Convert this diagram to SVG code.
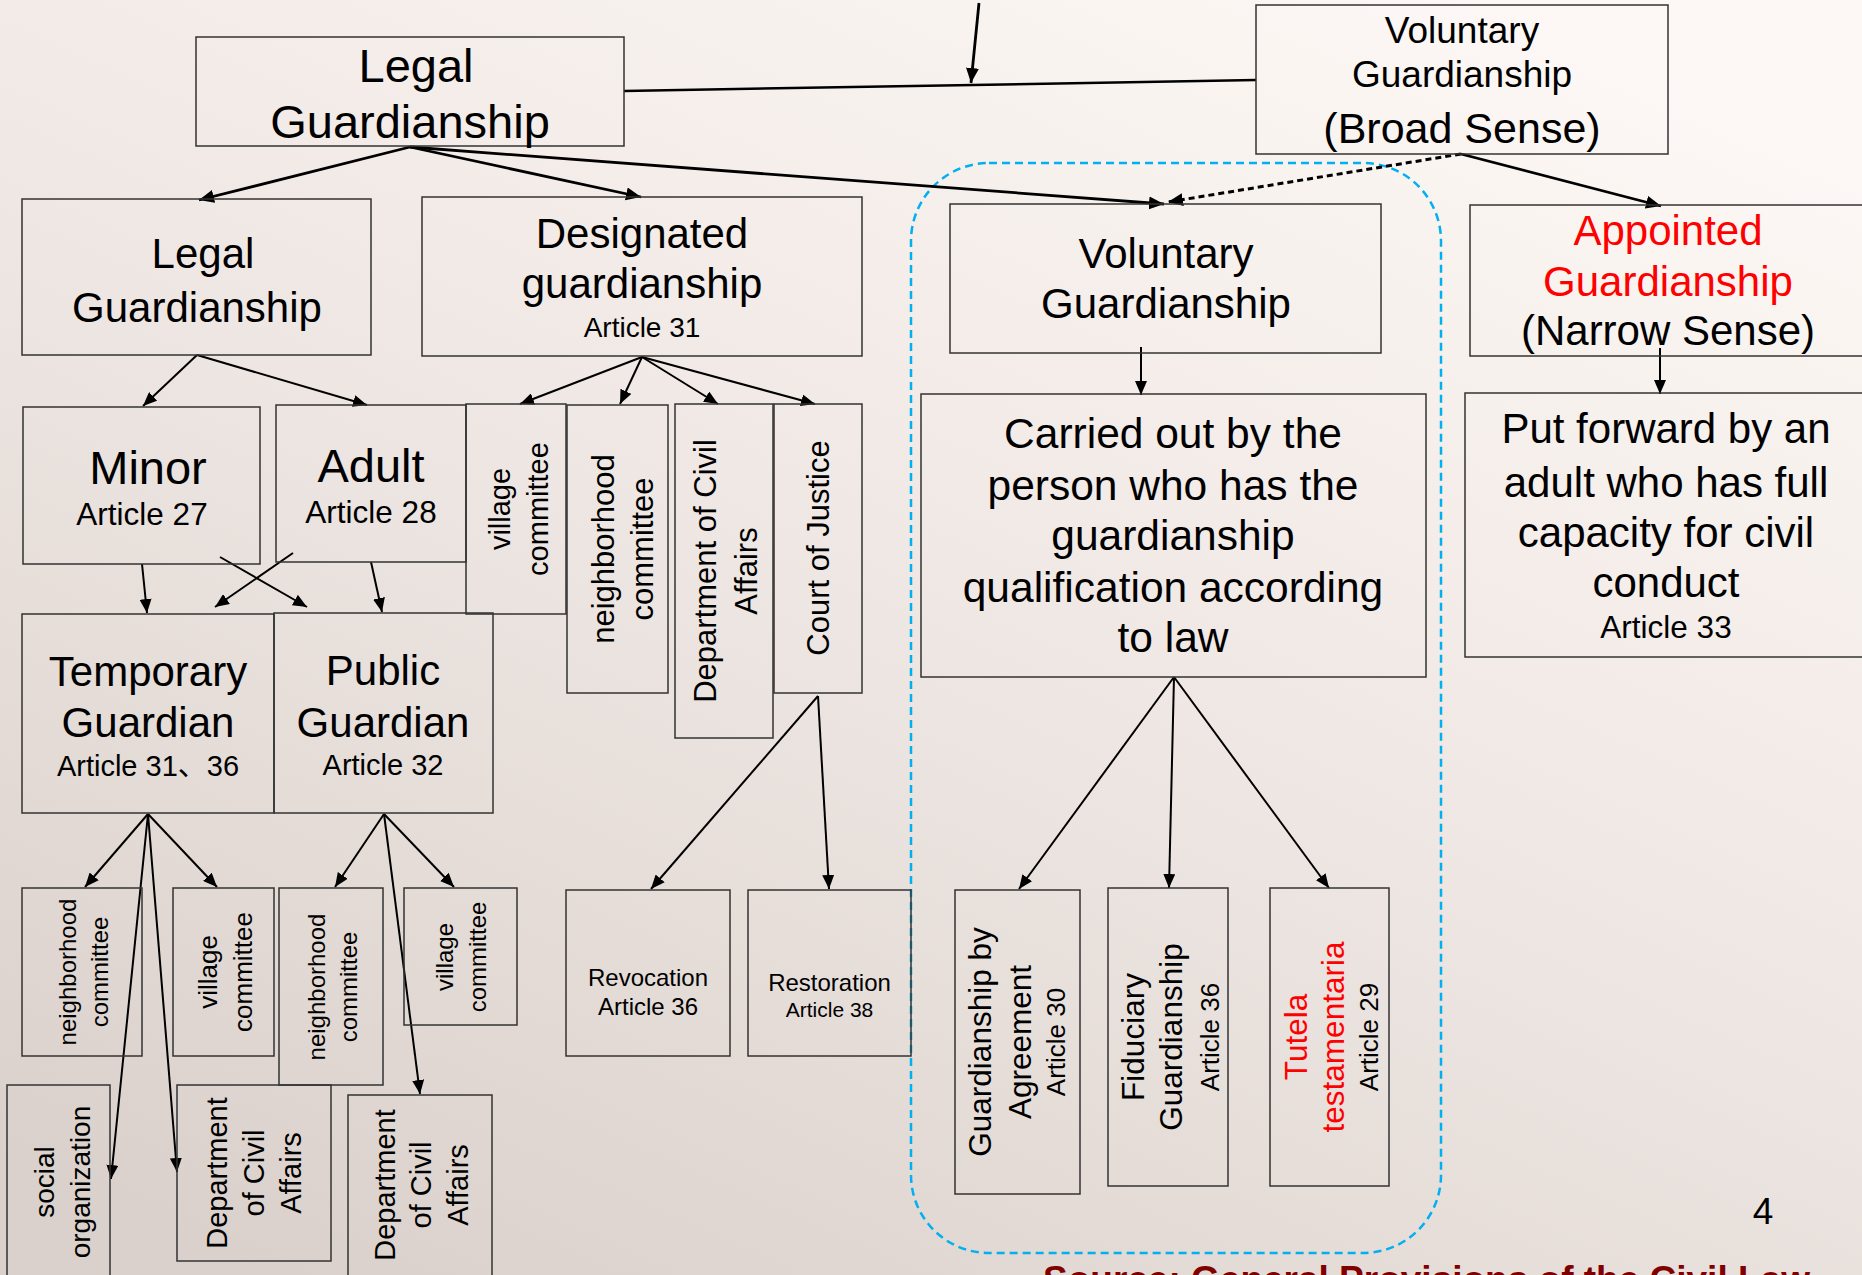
<svg xmlns="http://www.w3.org/2000/svg" width="1862" height="1275" viewBox="0 0 1862 1275">
<defs>
<linearGradient id="bg" x1="0.8" y1="0" x2="0.15" y2="1">
<stop offset="0" stop-color="#fdf8f5"/>
<stop offset="0.5" stop-color="#eee6e2"/>
<stop offset="1" stop-color="#dad1cc"/>
</linearGradient>
<marker id="ah" markerUnits="userSpaceOnUse" markerWidth="16" markerHeight="14" refX="15" refY="6.5" orient="auto" viewBox="0 0 16 14">
<path d="M0,0 L15,6.5 L0,13 z" fill="#000"/>
</marker>
<marker id="ahs" markerUnits="userSpaceOnUse" markerWidth="15" markerHeight="12" refX="14" refY="6" orient="auto" viewBox="0 0 15 12">
<path d="M0,0 L14,6 L0,12 z" fill="#000"/>
</marker>
</defs>
<style>
.box{fill:none;stroke:#333;stroke-width:1.5}
.t{font-family:"Liberation Sans",Arial,"Noto Sans CJK SC",sans-serif;fill:#000;text-anchor:middle}
.red{fill:#ff0000}
.c1{stroke:#000;stroke-width:2.8;fill:none;marker-end:url(#ah)}
.c2{stroke:#000;stroke-width:2;fill:none;marker-end:url(#ahs)}
.dash{stroke:#000;stroke-width:3;fill:none;stroke-dasharray:6 4;marker-end:url(#ah)}
</style>
<rect x="0" y="0" width="1862" height="1275" fill="url(#bg)"/>

<g id="frame">
<rect x="911" y="163" width="530" height="1090" rx="78" ry="78" fill="none" stroke="#00b0f0" stroke-width="2.5" stroke-dasharray="8 5"/>
</g>

<g id="connectors">
<line class="c1" x1="979" y1="3" x2="971" y2="83"/>
<line x1="624" y1="91" x2="1256" y2="80" stroke="#000" stroke-width="2.5"/>
<line class="c1" x1="410" y1="147" x2="199" y2="200"/>
<line class="c1" x1="410" y1="147" x2="641" y2="197"/>
<line class="c1" x1="410" y1="147" x2="1164" y2="204"/>
<line class="dash" x1="1461" y1="154" x2="1168" y2="202"/>
<line class="c1" x1="1461" y1="154" x2="1661" y2="206"/>
<line class="c2" x1="197" y1="355" x2="143" y2="406"/>
<line class="c2" x1="197" y1="355" x2="367" y2="405"/>
<line class="c2" x1="642" y1="357" x2="520" y2="404"/>
<line class="c2" x1="642" y1="357" x2="620" y2="404"/>
<line class="c2" x1="642" y1="357" x2="718" y2="404"/>
<line class="c2" x1="642" y1="357" x2="815" y2="404"/>
<line class="c2" x1="1141" y1="347" x2="1141" y2="395"/>
<line class="c2" x1="1660" y1="348" x2="1660" y2="394"/>
<line class="c2" x1="142" y1="564" x2="147" y2="613"/>
<line class="c2" x1="220" y1="557" x2="307" y2="607"/>
<line class="c2" x1="293" y1="553" x2="215" y2="607"/>
<line class="c2" x1="371" y1="562" x2="382" y2="612"/>
<line class="c2" x1="818" y1="696" x2="651" y2="889"/>
<line class="c2" x1="818" y1="696" x2="829" y2="889"/>
<line class="c2" x1="1174" y1="677" x2="1019" y2="889"/>
<line class="c2" x1="1174" y1="677" x2="1169" y2="888"/>
<line class="c2" x1="1174" y1="677" x2="1329" y2="888"/>
<line class="c2" x1="148" y1="814" x2="85" y2="887"/>
<line class="c2" x1="148" y1="814" x2="217" y2="887"/>
<line class="c2" x1="148" y1="814" x2="111" y2="1179"/>
<line class="c2" x1="148" y1="814" x2="177" y2="1172"/>
<line class="c2" x1="384" y1="814" x2="335" y2="887"/>
<line class="c2" x1="384" y1="814" x2="454" y2="887"/>
<line class="c2" x1="384" y1="814" x2="420" y2="1094"/>
</g>

<g id="legal-guardianship-top">
<rect class="box" x="196" y="37" width="428" height="109"/>
<text class="t" font-size="47" x="416" y="82">Legal</text>
<text class="t" font-size="47" x="410" y="138">Guardianship</text>
</g>

<g id="voluntary-broad">
<rect class="box" x="1256" y="5" width="412" height="149"/>
<text class="t" font-size="37" x="1462" y="43">Voluntary</text>
<text class="t" font-size="37" x="1462" y="87">Guardianship</text>
<text class="t" font-size="43" x="1462" y="143">(Broad Sense)</text>
</g>

<g id="legal-guardianship">
<rect class="box" x="22" y="199" width="349" height="156"/>
<text class="t" font-size="42" x="203" y="268">Legal</text>
<text class="t" font-size="42" x="197" y="322">Guardianship</text>
</g>

<g id="designated">
<rect class="box" x="422" y="197" width="440" height="159"/>
<text class="t" font-size="42" x="642" y="248">Designated</text>
<text class="t" font-size="42" x="642" y="298">guardianship</text>
<text class="t" font-size="28" x="642" y="337">Article 31</text>
</g>

<g id="voluntary">
<rect class="box" x="950" y="204" width="431" height="149"/>
<text class="t" font-size="42" x="1166" y="268">Voluntary</text>
<text class="t" font-size="42" x="1166" y="318">Guardianship</text>
</g>

<g id="appointed">
<rect class="box" x="1470" y="205" width="400" height="151"/>
<text class="t red" font-size="42" x="1668" y="245">Appointed</text>
<text class="t red" font-size="42" x="1668" y="296">Guardianship</text>
<text class="t" font-size="42" x="1668" y="345">(Narrow Sense)</text>
</g>

<g id="minor">
<rect class="box" x="23" y="407" width="237" height="157"/>
<text class="t" font-size="47" x="148" y="484">Minor</text>
<text class="t" font-size="31.5" x="142" y="525">Article 27</text>
</g>

<g id="adult">
<rect class="box" x="276" y="405" width="190" height="157"/>
<text class="t" font-size="47" x="371" y="482">Adult</text>
<text class="t" font-size="31.5" x="371" y="523">Article 28</text>
</g>

<g id="village-committee-1">
<rect class="box" x="466" y="404" width="100" height="210"/>
<text class="t" font-size="29" transform="translate(510,509) rotate(-90)">village</text>
<text class="t" font-size="29" transform="translate(548,509) rotate(-90)">committee</text>
</g>

<g id="neighborhood-committee-1">
<rect class="box" x="567" y="405" width="101" height="288"/>
<text class="t" font-size="31" transform="translate(614,549) rotate(-90)">neighborhood</text>
<text class="t" font-size="31" transform="translate(653,549) rotate(-90)">committee</text>
</g>

<g id="civil-affairs-1">
<rect class="box" x="675" y="404" width="98" height="334"/>
<text class="t" font-size="31" transform="translate(716,571) rotate(-90)">Department of Civil</text>
<text class="t" font-size="31" transform="translate(757,571) rotate(-90)">Affairs</text>
</g>

<g id="court-of-justice">
<rect class="box" x="774" y="404" width="88" height="289"/>
<text class="t" font-size="31" transform="translate(829,548) rotate(-90)">Court of Justice</text>
</g>

<g id="temporary-guardian">
<rect class="box" x="22" y="614" width="252" height="199"/>
<text class="t" font-size="42" x="148" y="686">Temporary</text>
<text class="t" font-size="42" x="148" y="737">Guardian</text>
<text class="t" font-size="29" x="148" y="776">Article 31、36</text>
</g>

<g id="public-guardian">
<rect class="box" x="274" y="613" width="219" height="200"/>
<text class="t" font-size="42" x="383" y="685">Public</text>
<text class="t" font-size="42" x="383" y="737">Guardian</text>
<text class="t" font-size="29" x="383" y="775">Article 32</text>
</g>

<g id="carried-out">
<rect class="box" x="921" y="394" width="505" height="283"/>
<text class="t" font-size="42.5" x="1173" y="448">Carried out by the</text>
<text class="t" font-size="42.5" x="1173" y="500">person who has the</text>
<text class="t" font-size="42.5" x="1173" y="550">guardianship</text>
<text class="t" font-size="42.5" x="1173" y="602">qualification according</text>
<text class="t" font-size="42.5" x="1173" y="652">to law</text>
</g>

<g id="put-forward">
<rect class="box" x="1465" y="393" width="405" height="264"/>
<text class="t" font-size="42" x="1666" y="443">Put forward by an</text>
<text class="t" font-size="42" x="1666" y="497">adult who has full</text>
<text class="t" font-size="42" x="1666" y="547">capacity for civil</text>
<text class="t" font-size="42" x="1666" y="597">conduct</text>
<text class="t" font-size="31.5" x="1666" y="638">Article 33</text>
</g>

<g id="neighborhood-committee-2">
<rect class="box" x="22" y="888" width="120" height="168"/>
<text class="t" font-size="24" transform="translate(76,972) rotate(-90)">neighborhood</text>
<text class="t" font-size="24" transform="translate(108,972) rotate(-90)">committee</text>
</g>

<g id="village-committee-2">
<rect class="box" x="173" y="888" width="101" height="168"/>
<text class="t" font-size="26" transform="translate(217,972) rotate(-90)">village</text>
<text class="t" font-size="26" transform="translate(252,972) rotate(-90)">committee</text>
</g>

<g id="neighborhood-committee-3">
<rect class="box" x="279" y="888" width="104" height="197"/>
<text class="t" font-size="24" transform="translate(325,987) rotate(-90)">neighborhood</text>
<text class="t" font-size="24" transform="translate(357,987) rotate(-90)">committee</text>
</g>

<g id="village-committee-3">
<rect class="box" x="404" y="888" width="113" height="137"/>
<text class="t" font-size="24" transform="translate(453,957) rotate(-90)">village</text>
<text class="t" font-size="24" transform="translate(486,957) rotate(-90)">committee</text>
</g>

<g id="social-organization">
<rect class="box" x="7" y="1085" width="103" height="200"/>
<text class="t" font-size="28" transform="translate(54,1182) rotate(-90)">social</text>
<text class="t" font-size="28" transform="translate(90,1182) rotate(-90)">organization</text>
</g>

<g id="civil-affairs-2">
<rect class="box" x="177" y="1085" width="154" height="176"/>
<text class="t" font-size="29" transform="translate(227,1173) rotate(-90)">Department</text>
<text class="t" font-size="29" transform="translate(264,1173) rotate(-90)">of Civil</text>
<text class="t" font-size="29" transform="translate(301,1173) rotate(-90)">Affairs</text>
</g>

<g id="civil-affairs-3">
<rect class="box" x="348" y="1095" width="144" height="190"/>
<text class="t" font-size="29" transform="translate(395,1185) rotate(-90)">Department</text>
<text class="t" font-size="29" transform="translate(431,1185) rotate(-90)">of Civil</text>
<text class="t" font-size="29" transform="translate(468,1185) rotate(-90)">Affairs</text>
</g>

<g id="revocation">
<rect class="box" x="566" y="890" width="164" height="166"/>
<text class="t" font-size="24" x="648" y="986">Revocation</text>
<text class="t" font-size="24" x="648" y="1015">Article 36</text>
</g>

<g id="restoration">
<rect class="box" x="748" y="890" width="163" height="166"/>
<text class="t" font-size="24" x="829.5" y="991">Restoration</text>
<text class="t" font-size="21" x="829.5" y="1017">Article 38</text>
</g>

<g id="agreement">
<rect class="box" x="955" y="890" width="125" height="304"/>
<text class="t" font-size="31.5" transform="translate(991,1042) rotate(-90)">Guardianship by</text>
<text class="t" font-size="31.5" transform="translate(1031,1042) rotate(-90)">Agreement</text>
<text class="t" font-size="26" transform="translate(1065,1042) rotate(-90)">Article 30</text>
</g>

<g id="fiduciary">
<rect class="box" x="1108" y="888" width="120" height="298"/>
<text class="t" font-size="31.5" transform="translate(1144,1037) rotate(-90)">Fiduciary</text>
<text class="t" font-size="31.5" transform="translate(1182,1037) rotate(-90)">Guardianship</text>
<text class="t" font-size="26" transform="translate(1219,1037) rotate(-90)">Article 36</text>
</g>

<g id="tutela">
<rect class="box" x="1270" y="888" width="119" height="298"/>
<text class="t red" font-size="31.5" transform="translate(1307,1037) rotate(-90)">Tutela</text>
<text class="t red" font-size="31.5" transform="translate(1344,1037) rotate(-90)">testamentaria</text>
<text class="t" font-size="26" transform="translate(1378,1037) rotate(-90)">Article 29</text>
</g>

<text class="t" font-size="37" x="1763" y="1224">4</text>
<text font-family="Liberation Sans, Arial, sans-serif" font-weight="bold" font-size="37" fill="#800000" x="1043" y="1292">Source: General Provisions of the Civil Law</text>
</svg>
